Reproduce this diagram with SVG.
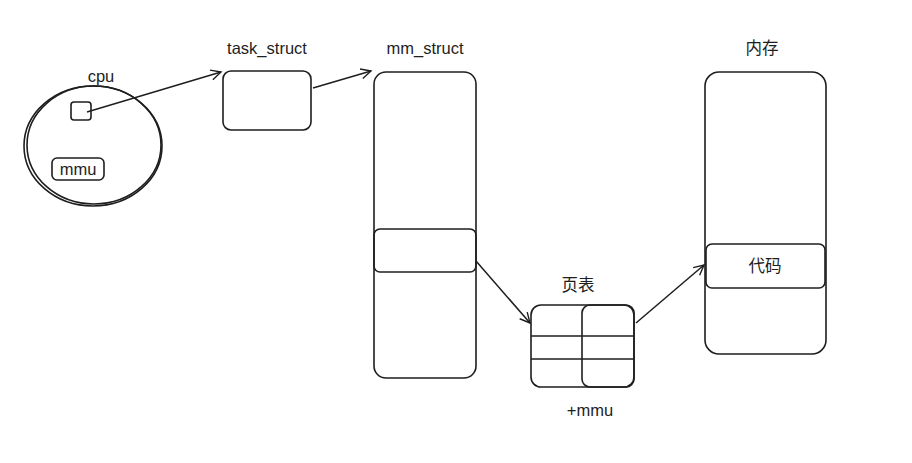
<svg xmlns="http://www.w3.org/2000/svg" width="912" height="463" viewBox="0 0 912 463">
<defs>
<marker id="arr" markerWidth="14" markerHeight="12" refX="11" refY="6" orient="auto" markerUnits="userSpaceOnUse">
<path d="M1,1 L11,6 L1,11" fill="none" stroke="#1e1e1e" stroke-width="1.4"/>
</marker>
</defs>
<style>
.s{fill:none;stroke:#1e1e1e;stroke-width:1.6}
.t{font-family:"Liberation Sans","Noto Sans CJK SC",sans-serif;font-size:16.5px;fill:#1e1e1e;text-anchor:middle}
.c{stroke:#1e1e1e;stroke-width:1.5;fill:none}
</style>
<rect width="912" height="463" fill="#fff"/>
<g id="cpu">
<ellipse class="s" cx="93" cy="146" rx="69" ry="60"/>
<ellipse class="s" cx="94" cy="145" rx="67" ry="59" stroke-width="0.8"/>
<text class="t" x="101" y="82">cpu</text>
<rect class="s" x="71" y="102" width="20" height="18" rx="3"/>
</g>
<g id="mmu">
<rect class="s" x="52" y="158" width="52" height="22" rx="5"/>
<text class="t" x="78" y="175">mmu</text>
</g>
<g id="task_struct">
<rect class="s" x="223" y="71" width="88" height="59" rx="8"/>
<text class="t" x="267" y="54">task_struct</text>
</g>
<g id="mm_struct">
<rect class="s" x="374" y="72" width="102" height="306" rx="12"/>
<rect class="s" x="374" y="229" width="102" height="43" rx="6"/>
<text class="t" x="425" y="54">mm_struct</text>
</g>
<g id="pagetable">
<rect class="s" x="531" y="305" width="103" height="82" rx="10"/>
<rect class="s" x="582" y="305" width="52" height="82" rx="8"/>
<line class="s" x1="531" y1="336" x2="634" y2="336"/>
<line class="s" x1="531" y1="359" x2="634" y2="359"/>
<text class="t" x="578" y="291">页表</text>
<text class="t" x="590" y="416">+mmu</text>
</g>
<g id="memory">
<rect class="s" x="705" y="72" width="121" height="282" rx="14"/>
<rect class="s" x="706" y="244" width="119" height="44" rx="6"/>
<text class="t" x="765" y="272">代码</text>
<text class="t" x="762" y="54">内存</text>
</g>
<g id="connectors">
<line class="c" x1="87" y1="112" x2="221" y2="72" marker-end="url(#arr)"/>
<line class="c" x1="313" y1="88" x2="371" y2="71" marker-end="url(#arr)"/>
<line class="c" x1="476" y1="261" x2="530" y2="323" marker-end="url(#arr)"/>
<line class="c" x1="636" y1="323" x2="704" y2="265" marker-end="url(#arr)"/>
</g>
</svg>
